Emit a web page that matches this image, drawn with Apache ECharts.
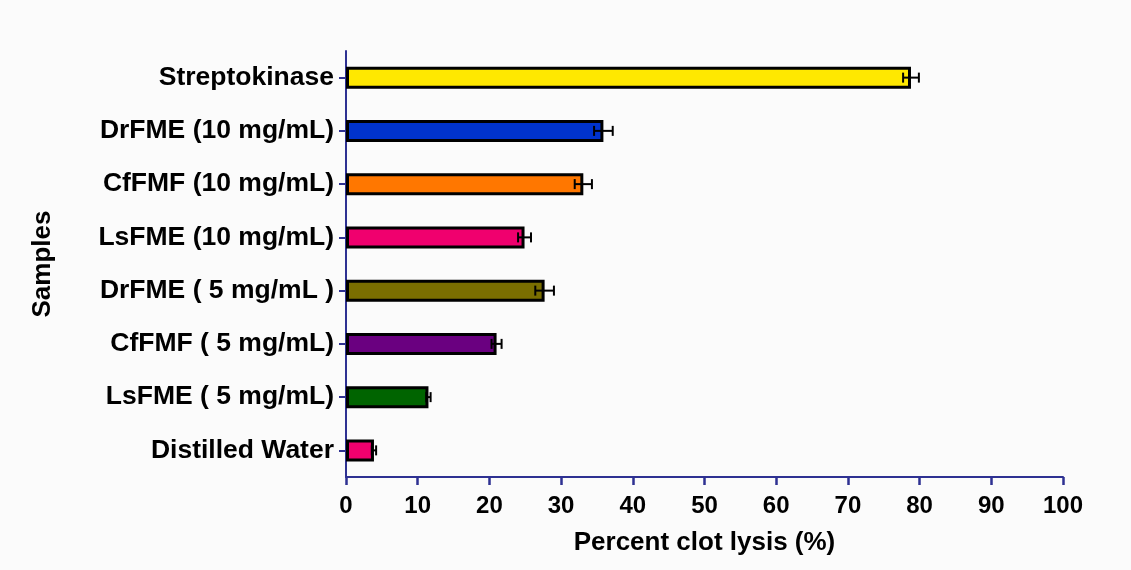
<!DOCTYPE html>
<html><head><meta charset="utf-8">
<script src="https://cdn.jsdelivr.net/npm/echarts@6/dist/echarts.min.js"></script>
<style>html,body{margin:0;padding:0;background:#fbfbfb}#c{width:1131px;height:570px}</style>
</head><body><div id="c"></div>
<script>
const categories = ["Distilled Water","LsFME ( 5 mg/mL)","CfFMF ( 5 mg/mL)","DrFME ( 5 mg/mL )","LsFME (10 mg/mL)","CfFMF (10 mg/mL)","DrFME (10 mg/mL)","Streptokinase"];
const values = [3.9, 11.5, 21.0, 27.7, 24.9, 33.1, 35.9, 78.8];
const errors = [0.3, 0.3, 0.7, 1.3, 0.9, 1.2, 1.3, 1.1];
const colors = ["#F0006E","#006400","#6A0080","#7A6E00","#F0006E","#FF7700","#0033CC","#FFE800"];
const xTicks = [0,10,20,30,40,50,60,70,80,90,100];

const axisColor = "#2e3192";
const font = "Liberation Sans, Arial, sans-serif";
const chart = echarts.init(document.getElementById('c'));
chart.setOption({
  backgroundColor: '#fbfbfb',
  animation: false,
  grid: {left: 346, right: 68, top: 51, bottom: 93},
  xAxis: {
    type: 'value', min: xTicks[0], max: xTicks[xTicks.length-1], interval: 10,
    name: 'Percent clot lysis (%)', nameLocation: 'middle', nameGap: 53,
    nameTextStyle: {fontFamily: font, fontWeight: 'bold', fontSize: 26, color: '#000'},
    axisLine: {show: true, lineStyle: {color: axisColor, width: 2}},
    axisTick: {show: true, length: 8, lineStyle: {color: axisColor, width: 2.5}},
    axisLabel: {fontFamily: font, fontWeight: 'bold', fontSize: 24, color: '#000', margin: 17},
    splitLine: {show: false}
  },
  yAxis: {
    type: 'category', data: categories,
    name: 'Samples', nameLocation: 'middle', nameGap: 290, nameRotate: 90,
    nameTextStyle: {fontFamily: font, fontWeight: 'bold', fontSize: 26, color: '#000'},
    axisLine: {show: true, lineStyle: {color: axisColor, width: 2}},
    axisTick: {show: true, alignWithLabel: true, length: 7, lineStyle: {color: axisColor, width: 2}},
    axisLabel: {fontFamily: font, fontWeight: 'bold', fontSize: 26.5, color: '#000', margin: 12}
  },
  series: [{
    type: 'bar',
    data: values.map((v,i)=>({value: v, itemStyle: {color: colors[i]}})),
    barWidth: 22,
    itemStyle: {borderColor: '#000', borderWidth: 3},
    z: 2
  },{
    type: 'custom',
    data: values.map((v,i)=>[v, i, errors[i]]),
    renderItem: function(params, api){
      const v = api.value(0), idx = api.value(1), e = api.value(2);
      const lo = api.coord([v - e, idx]);
      const hi = api.coord([v + e, idx]);
      const h = 5;
      const st = {stroke: '#000', lineWidth: 2};
      return {type: 'group', children: [
        {type: 'line', shape: {x1: lo[0], y1: lo[1], x2: hi[0], y2: hi[1]}, style: st},
        {type: 'line', shape: {x1: lo[0], y1: lo[1]-h, x2: lo[0], y2: lo[1]+h}, style: st},
        {type: 'line', shape: {x1: hi[0], y1: hi[1]-h, x2: hi[0], y2: hi[1]+h}, style: st}
      ]};
    },
    z: 3
  }]
});
</script></body></html>
